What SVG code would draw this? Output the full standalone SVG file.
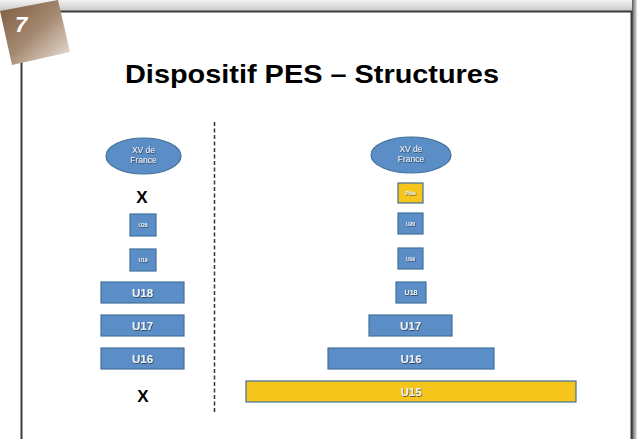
<svg xmlns="http://www.w3.org/2000/svg" width="637" height="439" viewBox="0 0 637 439">
  <defs>
    <linearGradient id="topbar" x1="0" y1="0" x2="0" y2="1">
      <stop offset="0" stop-color="#f2f2f2"/>
      <stop offset="1" stop-color="#c8c8c8"/>
    </linearGradient>
    <linearGradient id="rightbar" x1="0" y1="0" x2="1" y2="0">
      <stop offset="0" stop-color="#5a5a5a"/>
      <stop offset="1" stop-color="#e6e6e6"/>
    </linearGradient>
    <linearGradient id="badge" x1="0" y1="0" x2="1" y2="1">
      <stop offset="0" stop-color="#7b5b3e"/>
      <stop offset="0.5" stop-color="#a48870"/>
      <stop offset="1" stop-color="#efe8e0"/>
    </linearGradient>
    <filter id="sh" x="-20%" y="-20%" width="140%" height="140%">
      <feDropShadow dx="0.6" dy="0.8" stdDeviation="0.4" flood-color="#222" flood-opacity="0.8"/>
    </filter>
  </defs>
  <style>
    .box { fill: #5b8ec6; stroke: #41719c; stroke-width: 1.2; }
    .ybox { fill: #f6c51b; stroke: #41719c; stroke-width: 1.2; }
    .ell { fill: #5b8ec6; stroke: #41719c; stroke-width: 1.2; }
    .lbl { font-family: "Liberation Sans", Arial, sans-serif; font-weight: bold; fill: #eef2f8; text-anchor: middle; filter: url(#sh); }
    .big { font-size: 11.5px; }
    .tiny { font-size: 5px; }
    .ell-t { font-family: "Liberation Sans", Arial, sans-serif; font-size: 8.5px; fill: #eef2f8; text-anchor: middle; filter: url(#sh); }
    .x { font-family: "Liberation Sans", Arial, sans-serif; font-weight: bold; font-size: 17px; fill: #000; text-anchor: middle; }
  </style>

  <rect width="637" height="439" fill="#ffffff"/>
  <!-- frame -->
  <rect x="0" y="0" width="637" height="11" fill="url(#topbar)"/>
  <rect x="632" y="0" width="5" height="439" fill="url(#rightbar)"/>
  <rect x="21.5" y="11.5" width="610" height="440" fill="#ffffff" stroke="#3c3c3c" stroke-width="2"/>

  <!-- badge -->
  <g id="badge7">
    <polygon points="0,11 58,0 70,52 12,65" fill="url(#badge)"/>
    <text x="21" y="32" font-family="Liberation Sans, Arial, sans-serif" font-weight="bold" font-style="italic" font-size="22" fill="#ffffff" text-anchor="middle">7</text>
  </g>

  <g id="title">
    <text x="312" y="83" font-family="Liberation Sans, Arial, sans-serif" font-weight="bold" font-size="26" fill="#000" text-anchor="middle" textLength="374" lengthAdjust="spacingAndGlyphs">Dispositif PES – Structures</text>
  </g>

  <g id="connectors">
    <line x1="214.5" y1="122" x2="214.5" y2="412" stroke="#333" stroke-width="1.5" stroke-dasharray="4,2.5"/>
  </g>

  <!-- left column -->
  <g id="left-xv">
    <ellipse class="ell" cx="143.5" cy="156" rx="37.5" ry="18"/>
    <text class="ell-t" x="143.5" y="153">XV de</text>
    <text class="ell-t" x="143.5" y="163">France</text>
  </g>
  <g id="left-x1"><text class="x" x="142" y="203">X</text></g>
  <g id="left-u20">
    <rect class="box" x="130" y="214" width="26" height="22"/>
    <text class="lbl tiny" x="143" y="227">U20</text>
  </g>
  <g id="left-u19">
    <rect class="box" x="130" y="249" width="26" height="22"/>
    <text class="lbl tiny" x="143" y="262">U19</text>
  </g>
  <g id="left-u18">
    <rect class="box" x="101" y="282" width="83" height="21"/>
    <text class="lbl big" x="142.5" y="296.5">U18</text>
  </g>
  <g id="left-u17">
    <rect class="box" x="101" y="315" width="83" height="21"/>
    <text class="lbl big" x="142.5" y="329.5">U17</text>
  </g>
  <g id="left-u16">
    <rect class="box" x="101" y="348" width="83" height="21"/>
    <text class="lbl big" x="142.5" y="362.5">U16</text>
  </g>
  <g id="left-x2"><text class="x" x="143" y="402">X</text></g>

  <!-- right column -->
  <g id="right-xv">
    <ellipse class="ell" cx="411" cy="155" rx="40" ry="18"/>
    <text class="ell-t" x="411" y="152">XV de</text>
    <text class="ell-t" x="411" y="162">France</text>
  </g>
  <g id="right-pole">
    <rect class="ybox" x="398" y="183" width="25" height="20"/>
    <text class="lbl tiny" x="410.5" y="195">Pôle</text>
  </g>
  <g id="right-u20">
    <rect class="box" x="398" y="213" width="25" height="21"/>
    <text class="lbl tiny" x="410.5" y="225.5">U20</text>
  </g>
  <g id="right-u19">
    <rect class="box" x="398" y="248" width="25" height="21"/>
    <text class="lbl tiny" x="410.5" y="260.5">U19</text>
  </g>
  <g id="right-u18">
    <rect class="box" x="396" y="282" width="30" height="21"/>
    <text class="lbl" style="font-size:7px" x="411" y="295">U18</text>
  </g>
  <g id="right-u17">
    <rect class="box" x="369" y="315" width="83" height="21"/>
    <text class="lbl big" x="410.5" y="329.5">U17</text>
  </g>
  <g id="right-u16">
    <rect class="box" x="328" y="348" width="166" height="21"/>
    <text class="lbl big" x="411" y="362.5">U16</text>
  </g>
  <g id="right-u15">
    <rect class="ybox" x="246" y="381" width="330" height="21"/>
    <text class="lbl big" x="411" y="395.5">U15</text>
  </g>
</svg>
